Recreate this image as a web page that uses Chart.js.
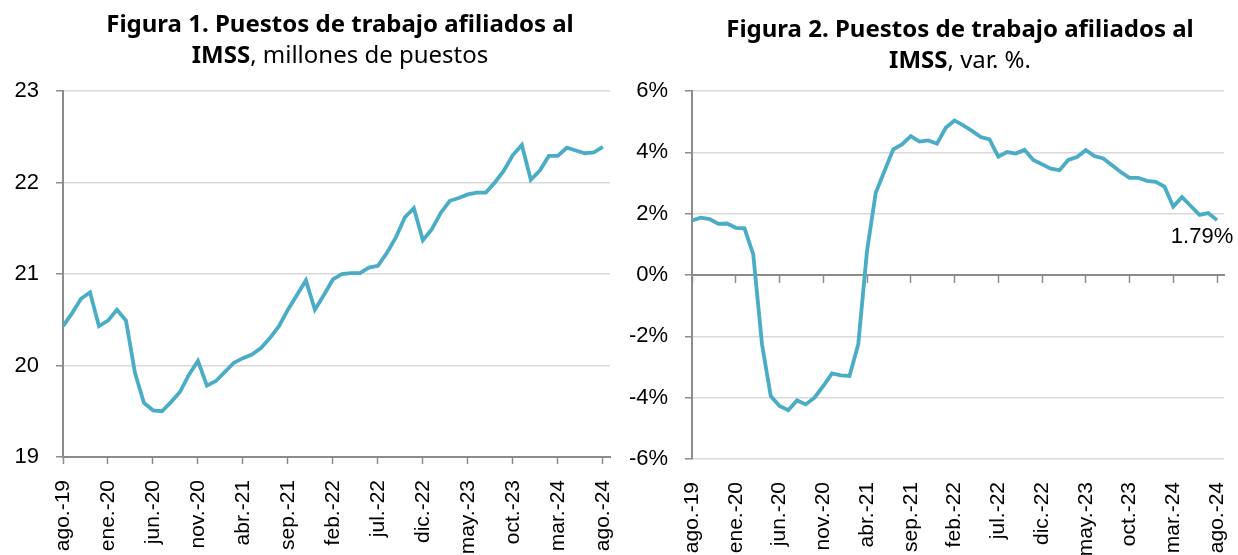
<!DOCTYPE html>
<html lang="es">
<head>
<meta charset="utf-8">
<script src="https://cdn.jsdelivr.net/npm/chart.js@4.4.1/dist/chart.umd.min.js"></script>
<style>
  body { margin: 0; background: #fff; }
  #contenedor { position: relative; width: 1238px; height: 555px; overflow: hidden; }
  canvas { position: absolute; top: 0; }
  .titulo {
    position: absolute; text-align: center; color: #000; white-space: nowrap;
    font-family: "Noto Sans", sans-serif; font-size: 24px; line-height: 31px;
  }
  .titulo b { font-weight: 700; }
</style>
</head>
<body>
<div id="contenedor">
  <canvas id="graficoPuestos" width="619" height="555" style="left:0"></canvas>
  <canvas id="graficoVariacion" width="619" height="555" style="left:619px"></canvas>
  <div class="titulo" style="left:0; width:680px; top:7px;"><b>Figura 1. Puestos de trabajo afiliados al<br>IMSS</b>, millones de puestos</div>
  <div class="titulo" style="left:619px; width:682px; top:12px;"><b>Figura 2. Puestos de trabajo afiliados al<br>IMSS</b>, var. %.</div>
</div>
<script>
// MESES (ago-19 a ago-24)
const meses = [
  'ago.-19','sep.-19','oct.-19','nov.-19','dic.-19',
  'ene.-20','feb.-20','mar.-20','abr.-20','may.-20','jun.-20','jul.-20','ago.-20','sep.-20','oct.-20','nov.-20','dic.-20',
  'ene.-21','feb.-21','mar.-21','abr.-21','may.-21','jun.-21','jul.-21','ago.-21','sep.-21','oct.-21','nov.-21','dic.-21',
  'ene.-22','feb.-22','mar.-22','abr.-22','may.-22','jun.-22','jul.-22','ago.-22','sep.-22','oct.-22','nov.-22','dic.-22',
  'ene.-23','feb.-23','mar.-23','abr.-23','may.-23','jun.-23','jul.-23','ago.-23','sep.-23','oct.-23','nov.-23','dic.-23',
  'ene.-24','feb.-24','mar.-24','abr.-24','may.-24','jun.-24','jul.-24','ago.-24'
];
// PUESTOS AFILIADOS, MILLONES
const puestos = [
  20.43, 20.57, 20.73, 20.80, 20.43, 20.49, 20.61, 20.49, 19.92, 19.59,
  19.51, 19.50, 19.60, 19.71, 19.90, 20.05, 19.78, 19.83, 19.93, 20.03,
  20.08, 20.12, 20.19, 20.30, 20.43, 20.61, 20.77, 20.93, 20.61, 20.77,
  20.94, 21.00, 21.01, 21.01, 21.07, 21.09, 21.23, 21.40, 21.62, 21.72,
  21.37, 21.49, 21.67, 21.80, 21.83, 21.87, 21.89, 21.89, 22.00, 22.13,
  22.30, 22.41, 22.03, 22.13, 22.29, 22.29, 22.38, 22.35, 22.32, 22.33,
  22.39
];
// VARIACION ANUAL, %
const variacion = [
  1.78, 1.87, 1.82, 1.67, 1.68, 1.54, 1.52, 0.67, -2.26, -3.95,
  -4.27, -4.41, -4.09, -4.22, -4.00, -3.62, -3.21, -3.27, -3.29, -2.26,
  0.78, 2.68, 3.39, 4.10, 4.26, 4.53, 4.35, 4.39, 4.28, 4.80,
  5.04, 4.88, 4.70, 4.50, 4.42, 3.86, 4.01, 3.96, 4.08, 3.75,
  3.61, 3.47, 3.42, 3.75, 3.85, 4.07, 3.88, 3.80, 3.58, 3.36,
  3.17, 3.17, 3.07, 3.04, 2.88, 2.23, 2.54, 2.25, 1.96, 2.02,
  1.79
];
const ticksPuestos = [19, 20, 21, 22, 23];
const ticksVariacion = [-6, -4, -2, 0, 2, 4, 6];

function loadPage() {
  const colorLinea = '#4BACC6';
  const colorEje = '#8c8c8c';
  const colorRejilla = '#d9d9d9';
  const fuenteEjes = { family: '"Liberation Sans", Arial, sans-serif', size: 21 };
  const fuenteY = { family: '"Liberation Sans", Arial, sans-serif', size: 22 };

  const puntos = lista => lista.map((v, i) => ({ x: i, y: v }));
  // una marca cada cinco meses, incluida la ultima (ago.-24)
  const cadaCinco = scale => {
    scale.ticks = meses.map((m, i) => i).filter(i => i % 5 === 0).map(i => ({ value: i }));
  };

  function ejeX(extra) {
    return Object.assign({
      type: 'linear', min: 0, max: 60.8,
      afterBuildTicks: cadaCinco,
      afterFit: s => { s.paddingLeft = 0; s.paddingRight = 0; },
      ticks: {
        autoSkip: false, maxRotation: 90, minRotation: 90,
        color: '#000', font: fuenteEjes, padding: 16,
        callback: v => meses[v]
      },
      grid: { drawOnChartArea: false, tickLength: 7, tickColor: colorEje, tickWidth: 1.5 },
      border: { color: colorEje, width: 2 }
    }, extra);
  }

  function ejeY(min, max, valores, formato, ancho) {
    return {
      min: min, max: max,
      afterBuildTicks: s => { s.ticks = valores.map(v => ({ value: v })); },
      afterFit: s => { s.width = ancho; s.paddingTop = 0; s.paddingBottom = 0; },
      ticks: { color: '#000', font: fuenteY, padding: 17, callback: formato },
      grid: { color: colorRejilla, lineWidth: 1.5, tickLength: 7, tickColor: colorEje, tickWidth: 1.5 },
      border: { color: colorEje, width: 2 }
    };
  }

  const dataset = lista => ({
    data: puntos(lista),
    borderColor: colorLinea,
    borderWidth: 3.8,
    pointRadius: 0,
    tension: 0,
    fill: false
  });

  // GRAFICO 1: PUESTOS
  new Chart(document.getElementById('graficoPuestos').getContext('2d'), {
    type: 'line',
    data: { datasets: [dataset(puestos)] },
    options: {
      responsive: false,
      animation: false,
      layout: { padding: { top: 91, right: 9, left: 0, bottom: 0 } },
      plugins: { legend: { display: false }, tooltip: { enabled: false } },
      scales: {
        x: ejeX({ afterFit: s => { s.height = 98; s.paddingLeft = 0; s.paddingRight = 0; } }),
        y: ejeY(19, 23, ticksPuestos, v => v, 63)
      }
    }
  });

  // ETIQUETA DEL ULTIMO DATO
  const etiquetaFinal = {
    id: 'etiquetaFinal',
    afterDatasetsDraw(chart) {
      const meta = chart.getDatasetMeta(0);
      const p = meta.data[meta.data.length - 1];
      const ctx = chart.ctx;
      ctx.save();
      ctx.font = '22px "Liberation Sans", Arial, sans-serif';
      ctx.fillStyle = '#000';
      ctx.textAlign = 'center';
      ctx.textBaseline = 'middle';
      ctx.fillText(variacion[variacion.length - 1].toFixed(2) + '%', p.x - 15, p.y + 17);
      ctx.restore();
    }
  };

  // GRAFICO 2: VARIACION
  new Chart(document.getElementById('graficoVariacion').getContext('2d'), {
    type: 'line',
    data: { datasets: [dataset(variacion)] },
    options: {
      responsive: false,
      animation: false,
      layout: { padding: { top: 91, right: 14, left: 0, bottom: 0 } },
      plugins: { legend: { display: false }, tooltip: { enabled: false } },
      scales: {
        x: ejeX({
          position: { y: 0 },
          ticks: { display: false }
        }),
        xEtiquetas: ejeX({
          position: 'bottom',
          afterFit: s => { s.height = 96; s.paddingLeft = 0; s.paddingRight = 0; },
          grid: { display: false, drawTicks: false },
          border: { display: false },
          ticks: {
            autoSkip: false, maxRotation: 90, minRotation: 90,
            color: '#000', font: fuenteEjes, padding: 23,
            callback: v => meses[v]
          }
        }),
        y: ejeY(-6, 6, ticksVariacion, v => v + '%', 73)
      }
    },
    plugins: [etiquetaFinal]
  });
}
window.addEventListener('DOMContentLoaded', loadPage);
</script>
</body>
</html>
